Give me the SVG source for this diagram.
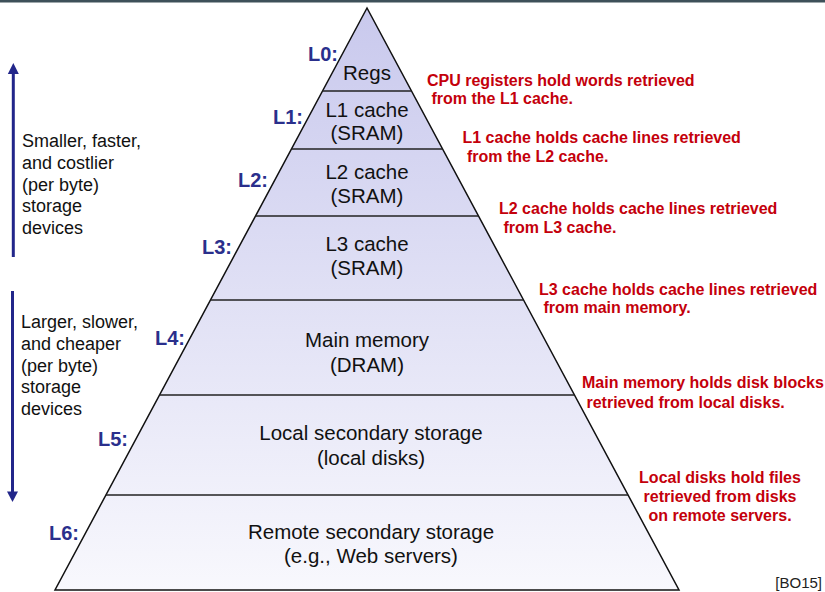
<svg xmlns="http://www.w3.org/2000/svg" width="825" height="592" viewBox="0 0 825 592">
<style>
  .lvl { font-family: "Liberation Sans", Arial, sans-serif; font-size: 20.5px; fill: #111; text-anchor: middle; }
  .tag { font-family: "Liberation Sans", Arial, sans-serif; font-size: 20px; font-weight: bold; fill: #2a2f8c; text-anchor: end; }
  .note { font-family: "Liberation Sans", Arial, sans-serif; font-size: 16px; font-weight: bold; fill: #c4000b; }
  .side { font-family: "Liberation Sans", Arial, sans-serif; font-size: 18px; fill: #111; }
  .div { stroke: #222; stroke-width: 1.5; }
  .arr { stroke: #22268a; stroke-width: 3; }
</style>
<defs>
  <linearGradient id="pg" gradientUnits="userSpaceOnUse" x1="0" y1="8" x2="0" y2="590">
    <stop offset="0" stop-color="#c9c9ed"/>
    <stop offset="1" stop-color="#f8f8fd"/>
  </linearGradient>
</defs>
<rect x="0" y="0" width="825" height="825" fill="#ffffff"/>
<rect x="0" y="0" width="825" height="2.5" fill="#3e5059"/>

<g id="pyramid">
  <polygon points="367,8 55,590 679,590" fill="url(#pg)" stroke="#111" stroke-width="1.5"/>
  <line class="div" x1="322.5" y1="91" x2="411.5" y2="91"/>
  <line class="div" x1="291.4" y1="149" x2="442.6" y2="149"/>
  <line class="div" x1="255.5" y1="216" x2="478.5" y2="216"/>
  <line class="div" x1="210.5" y1="300" x2="523.5" y2="300"/>
  <line class="div" x1="159.5" y1="395" x2="574.5" y2="395"/>
  <line class="div" x1="105.9" y1="495" x2="628.1" y2="495"/>
</g>

<g id="L0">
  <text class="tag" x="338" y="61">L0:</text>
  <text class="lvl" x="367" y="80">Regs</text>
  <text class="note" x="427" y="85.5">CPU registers hold words retrieved</text>
  <text class="note" x="427" y="104.3" xml:space="preserve"> from the L1 cache.</text>
</g>
<g id="L1">
  <text class="tag" x="303" y="124">L1:</text>
  <text class="lvl" x="367" y="117">L1 cache</text>
  <text class="lvl" x="367" y="140">(SRAM)</text>
  <text class="note" x="462.5" y="143.3">L1 cache holds cache lines retrieved</text>
  <text class="note" x="462.5" y="162.3" xml:space="preserve"> from the L2 cache.</text>
</g>
<g id="L2">
  <text class="tag" x="268" y="187">L2:</text>
  <text class="lvl" x="367" y="179">L2 cache</text>
  <text class="lvl" x="367" y="203">(SRAM)</text>
  <text class="note" x="499" y="214">L2 cache holds cache lines retrieved</text>
  <text class="note" x="499" y="233.3" xml:space="preserve"> from L3 cache.</text>
</g>
<g id="L3">
  <text class="tag" x="232" y="254">L3:</text>
  <text class="lvl" x="367" y="251">L3 cache</text>
  <text class="lvl" x="367" y="275">(SRAM)</text>
  <text class="note" x="539" y="295">L3 cache holds cache lines retrieved</text>
  <text class="note" x="539" y="313.3" xml:space="preserve"> from main memory.</text>
</g>
<g id="L4">
  <text class="tag" x="185" y="345">L4:</text>
  <text class="lvl" x="367" y="347">Main memory</text>
  <text class="lvl" x="367" y="372">(DRAM)</text>
  <text class="note" x="582" y="388.3">Main memory holds disk blocks</text>
  <text class="note" x="582" y="408.3" xml:space="preserve"> retrieved from local disks.</text>
</g>
<g id="L5">
  <text class="tag" x="128" y="446">L5:</text>
  <text class="lvl" x="371" y="440">Local secondary storage</text>
  <text class="lvl" x="371" y="465">(local disks)</text>
  <text class="note" x="720" y="483" text-anchor="middle">Local disks hold files</text>
  <text class="note" x="720" y="502" text-anchor="middle">retrieved from disks</text>
  <text class="note" x="720" y="521" text-anchor="middle">on remote servers.</text>
</g>
<g id="L6">
  <text class="tag" x="79" y="540">L6:</text>
  <text class="lvl" x="371" y="539">Remote secondary storage</text>
  <text class="lvl" x="371" y="563">(e.g., Web servers)</text>
</g>

<g id="arrows">
  <line class="arr" x1="13.3" y1="72" x2="13.3" y2="257"/>
  <polygon points="13.3,63 7.8,74 18.8,74" fill="#22268a"/>
  <line class="arr" x1="12.5" y1="291" x2="12.5" y2="494"/>
  <polygon points="12.5,502 7,491.5 18,491.5" fill="#22268a"/>
</g>

<g id="side-text">
  <text class="side" x="22" y="147">Smaller, faster,</text>
  <text class="side" x="22" y="169">and costlier</text>
  <text class="side" x="22" y="191">(per byte)</text>
  <text class="side" x="22" y="212">storage</text>
  <text class="side" x="22" y="234">devices</text>
  <text class="side" x="21" y="328">Larger, slower,</text>
  <text class="side" x="21" y="350">and cheaper</text>
  <text class="side" x="21" y="372">(per byte)</text>
  <text class="side" x="21" y="393">storage</text>
  <text class="side" x="21" y="415">devices</text>
</g>

<text x="822" y="588" text-anchor="end" font-family="Liberation Sans, Arial, sans-serif" font-size="15" fill="#222">[BO15]</text>
</svg>
